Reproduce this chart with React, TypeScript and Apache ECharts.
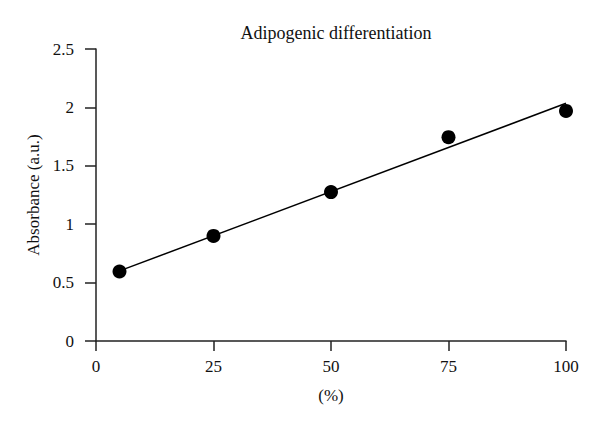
import React, { useEffect, useRef } from "react";
import * as echarts from "echarts";

const titleText = "Adipogenic differentiation";
const xName = "(%)";
const yName = "Absorbance (a.u.)";
const xTicks = [0, 25, 50, 75, 100];
const yTicks = [0, 0.5, 1, 1.5, 2, 2.5];
const percent = [5, 25, 50, 75, 100];
const absorbance = [0.595, 0.9, 1.275, 1.745, 1.97];
const fitX = [5, 100];
const fitY = [0.6, 2.035];

const FONT = "'Liberation Serif', 'DejaVu Serif', serif";

export default function App() {
  const ref = useRef<HTMLDivElement>(null);
  useEffect(() => {
    if (!ref.current) return;
    const chart = echarts.init(ref.current, null, { renderer: "svg" });
    const axisLine = { show: true, lineStyle: { color: "#222", width: 1.5 } };
    chart.setOption({
      animation: false,
      backgroundColor: "#fff",
      title: {
        text: titleText,
        left: 331,
        top: 19,
        textAlign: "center",
        textStyle: { fontFamily: FONT, fontSize: 18, fontWeight: "normal", color: "#111" },
      },
      grid: { left: 96, right: 34, top: 49, bottom: 87, containLabel: false },
      xAxis: {
        type: "value",
        min: xTicks[0],
        max: xTicks[xTicks.length - 1],
        interval: 25,
        name: xName,
        nameLocation: "middle",
        nameGap: 46,
        nameTextStyle: { fontFamily: FONT, fontSize: 17, color: "#111" },
        axisLine: { ...axisLine, onZero: false },
        axisTick: { show: true, length: 10, inside: false, lineStyle: { color: "#222", width: 1.5 } },
        axisLabel: { fontFamily: FONT, fontSize: 17, color: "#111", margin: 17 },
        splitLine: { show: false },
      },
      yAxis: {
        type: "value",
        min: yTicks[0],
        max: yTicks[yTicks.length - 1],
        interval: 0.5,
        name: yName,
        nameLocation: "middle",
        nameGap: 52,
        nameTextStyle: { fontFamily: FONT, fontSize: 17, color: "#111" },
        axisLine: { ...axisLine, onZero: false },
        axisTick: { show: true, length: 11, lineStyle: { color: "#222", width: 1.5 } },
        axisLabel: { fontFamily: FONT, fontSize: 17, color: "#111", margin: 22 },
        splitLine: { show: false },
      },
      series: [
        {
          type: "line",
          data: fitX.map((x, i) => [x, fitY[i]]),
          symbol: "none",
          lineStyle: { color: "#000", width: 1.5 },
          z: 1,
        },
        {
          type: "scatter",
          data: percent.map((x, i) => [x, absorbance[i]]),
          symbol: "circle",
          symbolSize: 14,
          itemStyle: { color: "#000", opacity: 1 },
          z: 2,
        },
      ],
    });
    return () => chart.dispose();
  }, []);
  return <div ref={ref} style={{ width: 600, height: 428, position: "absolute", left: 0, top: 0 }} />;
}
